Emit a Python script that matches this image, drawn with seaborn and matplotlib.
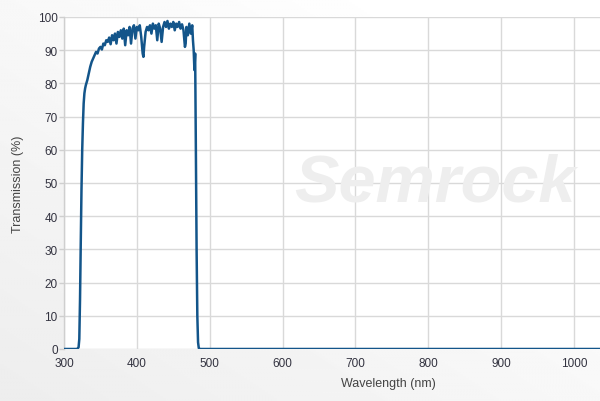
import numpy as np
import pandas as pd
import matplotlib
matplotlib.use("Agg")
import matplotlib.pyplot as plt
import seaborn as sns

# transmission spectrum (nm, %)
wavelength = [300, 318, 320, 321, 322, 323, 324, 325, 326, 327, 328, 329, 330,
              332, 334, 336, 338, 340, 342, 344, 346, 348, 350, 352, 354, 356,
              358, 360, 362, 364, 366, 368, 370, 372, 374, 376, 378, 380, 382,
              384, 386, 388, 390, 392, 394, 396, 398, 400, 402, 404, 406, 408,
              409, 410, 412, 414, 416, 418, 420, 422, 424, 426, 428, 430, 432,
              434, 436, 438, 440, 442, 444, 446, 448, 450, 452, 454, 456, 458,
              460, 462, 464, 466, 467, 468, 470, 472, 474, 476, 477, 478, 479,
              480, 481, 482, 483, 484, 485, 486, 1050]
transmission = [0, 0, 0.5, 3, 15, 32, 48, 60, 68, 74, 77, 78.5, 79.5,
                81, 83, 85, 86.5, 87.5, 88.5, 89.5, 89, 90.5, 91, 90.2, 92, 91.5,
                93, 92.5, 93.8, 91.8, 94.5, 93, 95, 92, 95.5, 94, 96, 93.5, 96.5,
                91.5, 96, 94.5, 97, 92, 96.5, 97.5, 93.5, 97, 96, 97.5, 94, 89,
                88, 91, 95.5, 97, 96, 97.5, 95, 98, 96.5, 97.5, 93, 98, 96.5,
                92.5, 97, 98.5, 97, 98.8, 96.5, 98, 97, 98.5, 96, 98, 97, 98.5,
                96.5, 97.8, 96, 91, 92, 97, 94.5, 98, 95, 97.5, 93, 90, 84,
                89, 60, 30, 10, 2, 0.3, 0, 0]

x_ticks = [300, 400, 500, 600, 700, 800, 900, 1000]
y_ticks = [0, 10, 20, 30, 40, 50, 60, 70, 80, 90, 100]

df = pd.DataFrame({"Wavelength": wavelength, "Transmission": transmission})

sns.set_theme(style="whitegrid")
plt.rcParams["font.family"] = ["Liberation Sans", "DejaVu Sans"]

fig = plt.figure(figsize=(6, 4.02), dpi=100)

# soft grey background gradient behind everything
bg = fig.add_axes([0, 0, 1, 1], zorder=-1)
gx, gy = np.meshgrid(np.linspace(0, 1, 200), np.linspace(0, 1, 200))
grad = 0.93 + 0.07 * np.clip(0.6 * gx + 0.6 * gy, 0, 1)
bg.imshow(grad, cmap="gray", vmin=0, vmax=1, origin="lower",
          extent=[0, 1, 0, 1], aspect="auto")
bg.axis("off")

ax = fig.add_axes([64 / 600, 52 / 402, 536 / 600, 332 / 402])
ax.set_facecolor("white")

sns.lineplot(data=df, x="Wavelength", y="Transmission", ax=ax,
             color="#13558a", linewidth=1.8, zorder=3)

ax.set_xlim(300, 1035.7)
ax.set_ylim(0, 100)
ax.set_xticks(x_ticks)
ax.set_yticks(y_ticks)

ax.set_axisbelow(True)
ax.grid(True, color="#d9d9d9", linewidth=1)
for side in ["top", "right", "bottom"]:
    ax.spines[side].set_visible(False)
ax.spines["left"].set_color("#cfcfcf")
ax.spines["left"].set_linewidth(1)

ax.tick_params(axis="y", length=3.5, width=1, color="#cfcfcf", pad=1,
               labelsize=8.5, labelcolor="#333340", left=True)
ax.tick_params(axis="x", length=0, pad=6, labelsize=8.5, labelcolor="#333340")

ax.set_xlabel("Wavelength (nm)", fontsize=9, color="#444444")
ax.set_ylabel("Transmission (%)", fontsize=9, color="#444444")
ax.xaxis.set_label_coords(0.606, -0.085)
ax.yaxis.set_label_coords(-0.074, 0.5)

# faint watermark
ax.text(0.692, 0.497, "Semrock", transform=ax.transAxes, fontsize=48,
        fontweight="bold", fontstyle="italic", color="#eeeeee",
        ha="center", va="center", zorder=0.6)

fig.savefig("out.png", dpi=100)
